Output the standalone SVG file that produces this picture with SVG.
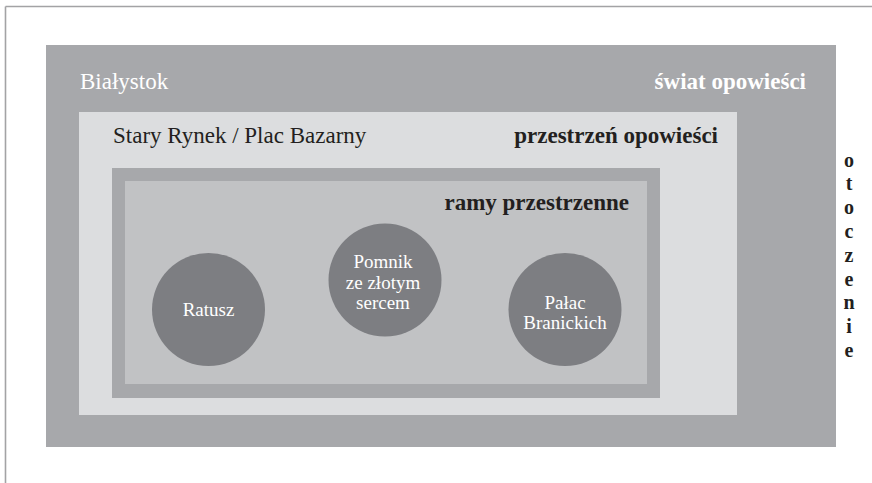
<svg xmlns="http://www.w3.org/2000/svg" width="872" height="483" viewBox="0 0 872 483" font-family="'Liberation Serif', 'DejaVu Serif', serif">
  <style>
    .lbl { font-family: "Liberation Serif", "DejaVu Serif", serif; font-size: 23px; }
    .white { fill: #ffffff; }
    .dark { fill: #231f20; }
    .bold { font-weight: bold; }
    .circ { fill: #7d7e82; }
    .ctext { font-family: "Liberation Serif", "DejaVu Serif", serif; font-size: 19px; fill: #ffffff; text-anchor: middle; }
    .vert { font-family: "Liberation Serif", "DejaVu Serif", serif; font-size: 20px; font-weight: bold; fill: #231f20; text-anchor: middle; }
  </style>

  <!-- page frame: top and left rules -->
  <g id="frame" stroke="#a3a3a5" stroke-width="1.6" fill="none">
    <line x1="5.5" y1="6.5" x2="872" y2="6.5"/>
    <line x1="5.5" y1="6.5" x2="5.5" y2="483"/>
  </g>

  <!-- world of the story: Białystok -->
  <g id="swiat">
    <rect x="46" y="45" width="790" height="402" fill="#a7a8ab"/>
    <text class="lbl white" x="80" y="89">Białystok</text>
    <text class="lbl white bold" x="806" y="89" text-anchor="end">świat opowieści</text>
  </g>

  <!-- story space: Stary Rynek -->
  <g id="przestrzen">
    <rect x="79" y="112" width="658" height="303" fill="#dcdddf"/>
    <text class="lbl dark" x="113" y="143">Stary Rynek / Plac Bazarny</text>
    <text class="lbl dark bold" x="718" y="143" text-anchor="end">przestrzeń opowieści</text>
  </g>

  <!-- spatial frames -->
  <g id="ramy">
    <rect x="112" y="168" width="548" height="230" fill="#a7a8ab"/>
    <rect x="125" y="181" width="522" height="203" fill="#c1c2c4"/>
    <text class="lbl dark bold" x="629" y="210" text-anchor="end">ramy przestrzenne</text>
  </g>

  <g id="ratusz">
    <circle class="circ" cx="208.5" cy="309.5" r="56.5"/>
    <text class="ctext" x="208.5" y="316">Ratusz</text>
  </g>

  <g id="pomnik">
    <circle class="circ" cx="385" cy="280" r="56.5"/>
    <text class="ctext" x="383" y="268">Pomnik</text>
    <text class="ctext" x="383" y="288.5">ze złotym</text>
    <text class="ctext" x="383" y="309">sercem</text>
  </g>

  <g id="palac">
    <circle class="circ" cx="565" cy="309.5" r="56.5"/>
    <text class="ctext" x="565" y="308.5">Pałac</text>
    <text class="ctext" x="565" y="329">Branickich</text>
  </g>

  <!-- surroundings, set vertically -->
  <g id="otoczenie">
    <text class="vert" x="849" y="166.5">o</text>
    <text class="vert" x="849" y="190.3">t</text>
    <text class="vert" x="849" y="214.1">o</text>
    <text class="vert" x="849" y="237.9">c</text>
    <text class="vert" x="849" y="261.7">z</text>
    <text class="vert" x="849" y="285.5">e</text>
    <text class="vert" x="849" y="309.3">n</text>
    <text class="vert" x="849" y="333.1">i</text>
    <text class="vert" x="849" y="356.9">e</text>
  </g>
</svg>
